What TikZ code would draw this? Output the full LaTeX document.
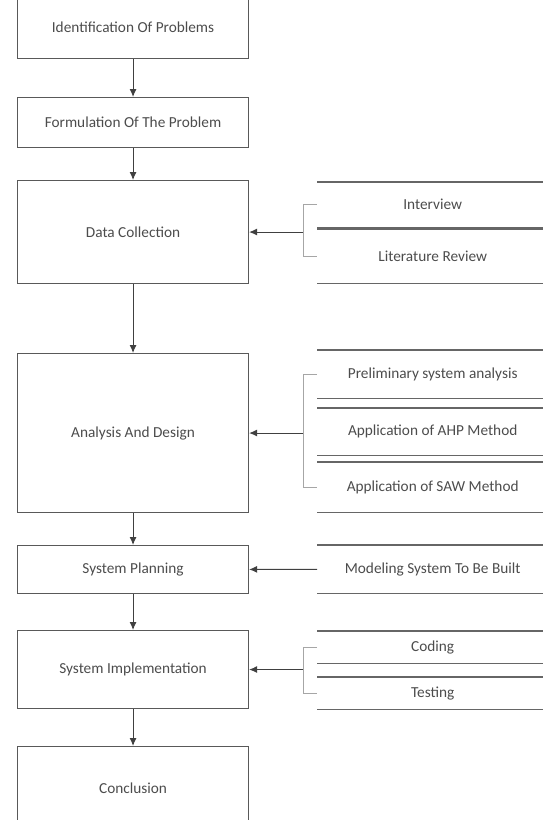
\documentclass[tikz,border=0pt]{standalone}
\usepackage{fontspec}
\setmainfont{Carlito}
\usetikzlibrary{arrows.meta,positioning,calc}

\begin{document}
\begin{tikzpicture}[x=1pt,y=-1pt,>={Latex[length=8pt,width=7pt]},
  lbox/.style={draw=black!65,line width=1.1pt,minimum width=231pt,anchor=north west,inner sep=0pt,text=black!70,font=\fontsize{15.3}{18}\selectfont},
  rbox/.style={minimum width=231pt,anchor=north west,inner sep=0pt,text=black!70,font=\fontsize{15.3}{18}\selectfont},
  rline/.style={draw=black!60,line width=1.1pt},
  bracket/.style={draw=black!35,line width=0.8pt}]
\useasboundingbox (0,0) rectangle (543,820);
% main steps
\node[lbox,minimum height=63pt] (idp) at (17,-5) {Identification Of Problems};
\node[lbox,minimum height=50pt] (fmp) at (17,97) {Formulation Of The Problem};
\node[lbox,minimum height=103pt] (dc) at (17,180) {Data Collection};
\node[lbox,minimum height=159pt] (ad) at (17,353) {Analysis And Design};
\node[lbox,minimum height=48pt] (sp) at (17,545) {System Planning};
\node[lbox,minimum height=78pt] (si) at (17,630) {System Implementation};
\node[lbox,minimum height=84pt] (cn) at (17,746) {Conclusion};
% side activities
\node[rbox,minimum height=45pt] (int) at (317,182) {Interview};
\node[rbox,minimum height=54pt] (lit) at (317,229) {Literature Review};
\node[rbox,minimum height=48pt] (pre) at (317,350) {Preliminary system analysis};
\node[rbox,minimum height=47pt] (ahp) at (317,408) {Application of AHP Method};
\node[rbox,minimum height=50pt] (saw) at (317,462) {Application of SAW Method};
\node[rbox,minimum height=48pt] (mod) at (317,545) {Modeling System To Be Built};
\node[rbox,minimum height=32pt] (cod) at (317,631) {Coding};
\node[rbox,minimum height=32pt] (tst) at (317,677) {Testing};
\foreach \n in {int,lit,pre,ahp,saw,mod,cod,tst}
  \draw[rline] (\n.north west) -- (\n.north east) (\n.south west) -- (\n.south east);
\coordinate (dcj) at ($(dc.east)+(54,0)$);
\coordinate (adj) at ($(ad.east)+(54,0)$);
\coordinate (sij) at ($(si.east)+(54,0)$);
% brackets
\draw[bracket] (int.west) -- (int.west -| dcj) -- (lit.west -| dcj) -- (lit.west);
\draw[bracket] (pre.west) -- (pre.west -| adj) -- (saw.west -| adj) -- (saw.west);
\draw[bracket] (cod.west) -- (cod.west -| sij) -- (tst.west -| sij) -- (tst.west);
\path[->,black!75,line width=1pt]
(idp) edge (fmp)
(fmp) edge (dc)
(dc) edge (ad)
(ad) edge (sp)
(sp) edge (si)
(si) edge (cn)
(dcj) edge (dc)
(adj) edge (ad)
(mod) edge (sp)
(sij) edge (si)
;
\end{tikzpicture}
\end{document}
